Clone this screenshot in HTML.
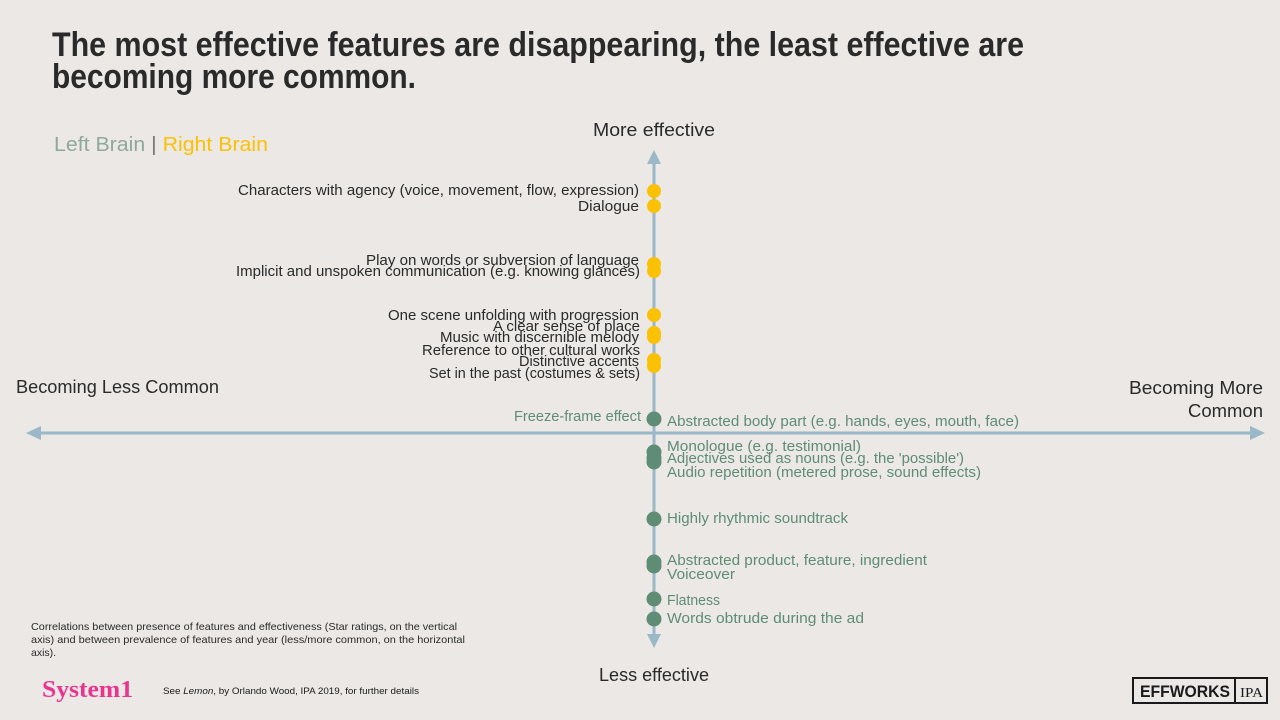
<!DOCTYPE html>
<html><head><meta charset="utf-8"><style>
html,body{margin:0;padding:0;background:#ebe8e5;}
svg{display:block;}
</style></head><body>
<svg width="1280" height="720" viewBox="0 0 1280 720" xmlns="http://www.w3.org/2000/svg" font-family="Liberation Sans, sans-serif">
<rect width="1280" height="720" fill="#ebe8e5"/>
<g fill="#2a2a2a" font-size="34" font-weight="bold">
<text x="52" y="56" textLength="972" lengthAdjust="spacingAndGlyphs">The most effective features are disappearing, the least effective are</text>
<text x="52" y="88" textLength="364" lengthAdjust="spacingAndGlyphs">becoming more common.</text>
</g>
<text x="54" y="151" font-size="20" textLength="214" lengthAdjust="spacingAndGlyphs"><tspan fill="#8fa99a">Left Brain</tspan><tspan fill="#777"> | </tspan><tspan fill="#fbc104">Right Brain</tspan></text>
<g stroke="#9ab8c8" stroke-width="3">
<line x1="654" y1="160" x2="654" y2="636"/>
<line x1="38" y1="433" x2="1252" y2="433"/>
</g>
<g fill="#9ab8c8">
<polygon points="654,150 647,164 661,164"/>
<polygon points="654,648 647,634 661,634"/>
<polygon points="26,433 41,426 41,440"/>
<polygon points="1265,433 1250,426 1250,440"/>
</g>
<g fill="#2a2a2a" font-size="18">
<text x="593" y="136" textLength="122" lengthAdjust="spacingAndGlyphs">More effective</text>
<text x="599" y="681" textLength="110" lengthAdjust="spacingAndGlyphs">Less effective</text>
<text x="16" y="393" textLength="203" lengthAdjust="spacingAndGlyphs">Becoming Less Common</text>
<text x="1263" y="394" text-anchor="end" textLength="134" lengthAdjust="spacingAndGlyphs">Becoming More</text>
<text x="1263" y="417" text-anchor="end" textLength="75" lengthAdjust="spacingAndGlyphs">Common</text>
</g>
<g fill="#fbc104">
<circle cx="654" cy="191" r="7"/><circle cx="654" cy="206" r="7"/>
<circle cx="654" cy="264" r="7"/><circle cx="654" cy="271" r="7"/>
<circle cx="654" cy="315" r="7"/><circle cx="654" cy="333" r="7"/><circle cx="654" cy="337" r="7"/>
<circle cx="654" cy="360" r="7"/><circle cx="654" cy="366" r="7"/>
</g>
<g fill="#5e8c74">
<circle cx="654" cy="419" r="7.5"/>
<circle cx="654" cy="452" r="7.5"/><circle cx="654" cy="458" r="7.5"/><circle cx="654" cy="462" r="7.5"/>
<circle cx="654" cy="519" r="7.5"/>
<circle cx="654" cy="562" r="7.5"/><circle cx="654" cy="566" r="7.5"/>
<circle cx="654" cy="599" r="7.5"/><circle cx="654" cy="619" r="7.5"/>
</g>
<g fill="#2a2a2a" font-size="15">
<text x="238" y="195" textLength="401" lengthAdjust="spacingAndGlyphs">Characters with agency (voice, movement, flow, expression)</text>
<text x="578" y="211" textLength="61" lengthAdjust="spacingAndGlyphs">Dialogue</text>
<text x="366" y="265" textLength="273" lengthAdjust="spacingAndGlyphs">Play on words or subversion of language</text>
<text x="236" y="276" textLength="404" lengthAdjust="spacingAndGlyphs">Implicit and unspoken communication (e.g. knowing glances)</text>
<text x="388" y="320" textLength="251" lengthAdjust="spacingAndGlyphs">One scene unfolding with progression</text>
<text x="493" y="331" textLength="147" lengthAdjust="spacingAndGlyphs">A clear sense of place</text>
<text x="440" y="342" textLength="199" lengthAdjust="spacingAndGlyphs">Music with discernible melody</text>
<text x="422" y="355" textLength="218" lengthAdjust="spacingAndGlyphs">Reference to other cultural works</text>
<text x="519" y="366" textLength="120" lengthAdjust="spacingAndGlyphs">Distinctive accents</text>
<text x="429" y="378" textLength="211" lengthAdjust="spacingAndGlyphs">Set in the past (costumes &amp; sets)</text>
</g>
<g fill="#5e8c74" font-size="15">
<text x="514" y="421" textLength="127" lengthAdjust="spacingAndGlyphs">Freeze-frame effect</text>
<text x="667" y="426" textLength="352" lengthAdjust="spacingAndGlyphs">Abstracted body part (e.g. hands, eyes, mouth, face)</text>
<text x="667" y="451" textLength="194" lengthAdjust="spacingAndGlyphs">Monologue (e.g. testimonial)</text>
<text x="667" y="463" textLength="297" lengthAdjust="spacingAndGlyphs">Adjectives used as nouns (e.g. the 'possible')</text>
<text x="667" y="477" textLength="314" lengthAdjust="spacingAndGlyphs">Audio repetition (metered prose, sound effects)</text>
<text x="667" y="523" textLength="181" lengthAdjust="spacingAndGlyphs">Highly rhythmic soundtrack</text>
<text x="667" y="565" textLength="260" lengthAdjust="spacingAndGlyphs">Abstracted product, feature, ingredient</text>
<text x="667" y="579" textLength="68" lengthAdjust="spacingAndGlyphs">Voiceover</text>
<text x="667" y="605" textLength="53" lengthAdjust="spacingAndGlyphs">Flatness</text>
<text x="667" y="623" textLength="197" lengthAdjust="spacingAndGlyphs">Words obtrude during the ad</text>
</g>
<g fill="#2a2a2a" font-size="10.5">
<text x="31" y="630" textLength="426" lengthAdjust="spacingAndGlyphs">Correlations between presence of features and effectiveness (Star ratings, on the vertical</text>
<text x="31" y="643" textLength="434" lengthAdjust="spacingAndGlyphs">axis) and between prevalence of features and year (less/more common, on the horizontal</text>
<text x="31" y="656">axis).</text>
</g>
<text x="42" y="697" style="font-family:'Liberation Serif',serif" font-weight="bold" font-size="24" fill="#e8358f" textLength="91" lengthAdjust="spacingAndGlyphs">System1</text>
<text x="163" y="694" font-size="9.5" fill="#1a1a1a" textLength="256" lengthAdjust="spacingAndGlyphs">See <tspan font-style="italic">Lemon</tspan>, by Orlando Wood, IPA 2019, for further details</text>
<g stroke="#1a1a1a" stroke-width="2" fill="none">
<rect x="1133" y="678" width="134" height="25"/>
<line x1="1235" y1="678" x2="1235" y2="703"/>
</g>
<text x="1140" y="697" font-size="17" font-weight="bold" fill="#1a1a1a" textLength="90" lengthAdjust="spacingAndGlyphs">EFFWORKS</text>
<text x="1240" y="697" font-size="14" style="font-family:'Liberation Serif',serif" fill="#1a1a1a" textLength="23" lengthAdjust="spacingAndGlyphs">IPA</text>
</svg>
</body></html>
